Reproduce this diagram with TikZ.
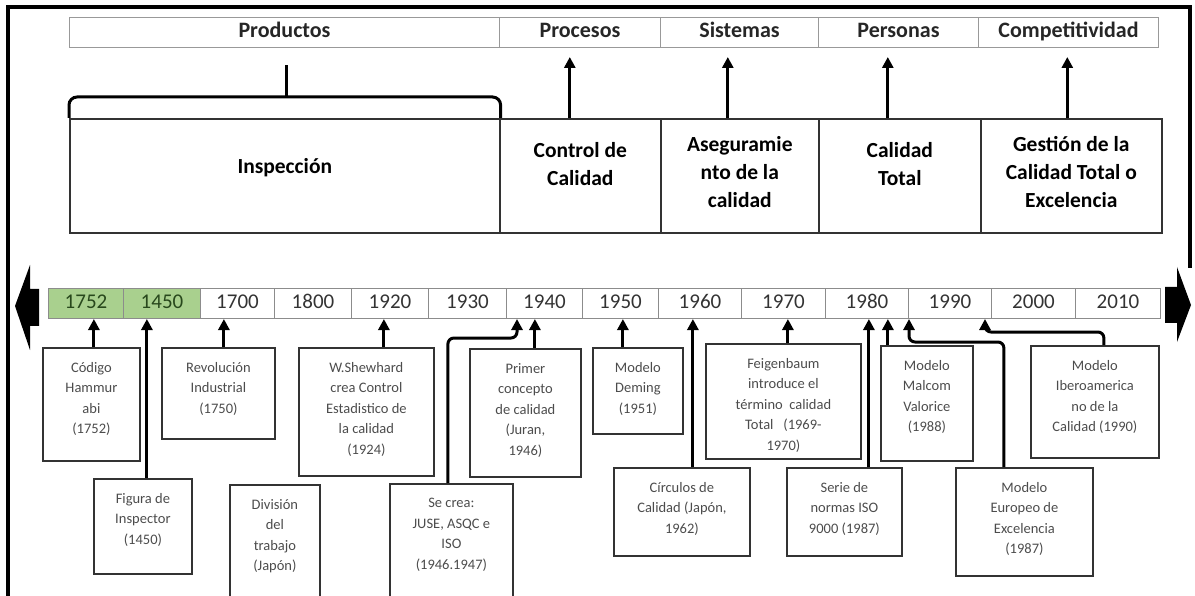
\documentclass[tikz,border=0pt]{standalone}
\usepackage{fontspec}
\setmainfont{Carlito}
\usetikzlibrary{arrows.meta}

\definecolor{cellgreen}{RGB}{169,208,142}
\definecolor{darkgreen}{RGB}{40,72,28}

% event box: name, left, top, width, height, text
\newcommand\evbox[6]{%
  \node[sbox, minimum width=#4pt, minimum height=#5pt] (#1) at (#2,#3) {};
  \node[stxt] (#1-t) at ([yshift=-15pt]#1.north) {#6};}

\begin{document}
\begin{tikzpicture}[x=1pt,y=-1pt,
  outerframe/.style={line width=3.5pt},
  hcell/.style={draw=black!40, line width=1pt, anchor=north west, minimum height=30pt,
    inner sep=0pt, text height=15pt, text depth=5pt,
    font=\fontsize{22}{26}\selectfont\bfseries, text=black!85},
  bigbox/.style={draw=black!80, line width=1.6pt, anchor=north west, minimum height=114pt, inner sep=0pt},
  bigtxt/.style={align=center, inner sep=0pt, font=\fontsize{21.5}{28}\selectfont\bfseries},
  ycell/.style={draw=black!45, line width=1pt, anchor=north west, minimum height=30pt,
    inner sep=0pt, text height=14pt, text depth=4pt,
    font=\fontsize{21}{24}\selectfont, text=black!80},
  oldcell/.style={ycell, fill=cellgreen, text=darkgreen},
  sbox/.style={draw=black!80, line width=1.8pt, anchor=north west, inner sep=0pt},
  stxt/.style={anchor=north, align=center, inner sep=0pt,
    font=\fontsize{14.5}{20.5}\selectfont, text=black!70},
  joinline/.style={line width=3pt, rounded corners=6pt},
  arr/.style={joinline, -{Triangle[length=11pt,width=11pt]}},
  prodbrace/.style={line width=3pt, rounded corners=8pt},
  endarrow/.style={fill=black, draw=none}
]
\useasboundingbox (0,0) rectangle (1195,596);

% outer frame (open at the bottom right)
\draw[outerframe] (8,596) -- (8,7) -- (1190,7) -- (1190,268);

% header row
\node[hcell, minimum width=430pt] (hprod) at (69,17) {Productos};
\node[hcell, minimum width=161pt] (hproc) at (499,17) {Procesos};
\node[hcell, minimum width=158pt] (hsist) at (660,17) {Sistemas};
\node[hcell, minimum width=160pt] (hpers) at (818,17) {Personas};
\node[hcell, minimum width=180pt] (hcomp) at (978,17) {Competitividad};

% stages
\node[bigbox, minimum width=430pt] (insp) at (69,118) {};
\node[bigbox, minimum width=161pt] (ctrl) at (499,118) {};
\node[bigbox, minimum width=158pt] (aseg) at (660,118) {};
\node[bigbox, minimum width=162pt] (ctot) at (818,118) {};
\node[bigbox, minimum width=181pt] (gest) at (980,118) {};

\node[bigtxt] (insp-t) at ([yshift=-50pt]insp.north) {Inspección};
\node[bigtxt] (ctrl-t) at ([yshift=-46pt]ctrl.north) {Control de\\Calidad};
\node[bigtxt] (aseg-t) at ([yshift=-54pt]aseg.north) {Aseguramie\\nto de la\\calidad};
\node[bigtxt] (ctot-t) at ([yshift=-46pt]ctot.north) {Calidad\\Total};
\node[bigtxt] (gest-t) at ([yshift=-54pt]gest.north) {Gestión de la\\Calidad Total o\\Excelencia};

% brace over the inspection stage
\coordinate (btip) at (286,97);
\draw[prodbrace] (insp.north west) |- (btip) -| (insp.north east);
\draw[prodbrace] (btip) -- ++(0,-32);

% stage -> focus arrows
\draw[arr, shorten >=9pt] ([xshift=-10.5pt]ctrl.north) -- ([xshift=-10.5pt]ctrl.north |- hproc.south);
\draw[arr, shorten >=9pt] ([xshift=-12pt]aseg.north) -- ([xshift=-12pt]aseg.north |- hsist.south);
\draw[arr, shorten >=9pt] ([xshift=-12pt]ctot.north) -- ([xshift=-12pt]ctot.north |- hpers.south);
\draw[arr, shorten >=9pt] ([xshift=-4pt]gest.north) -- ([xshift=-4pt]gest.north |- hcomp.south);

% time line
\node[oldcell, minimum width=75pt] (t1752) at (48,288) {1752};
\node[oldcell, minimum width=77pt] (t1450) at (123,288) {1450};
\node[ycell, minimum width=74pt] (t1700) at (200,288) {1700};
\node[ycell, minimum width=77pt] (t1800) at (274,288) {1800};
\node[ycell, minimum width=77pt] (t1920) at (351,288) {1920};
\node[ycell, minimum width=78pt] (t1930) at (428,288) {1930};
\node[ycell, minimum width=76pt] (t1940) at (506,288) {1940};
\node[ycell, minimum width=76pt] (t1950) at (582,288) {1950};
\node[ycell, minimum width=83pt] (t1960) at (658,288) {1960};
\node[ycell, minimum width=84pt] (t1970) at (741,288) {1970};
\node[ycell, minimum width=83pt] (t1980) at (825,288) {1980};
\node[ycell, minimum width=83pt] (t1990) at (908,288) {1990};
\node[ycell, minimum width=84pt] (t2000) at (991,288) {2000};
\node[ycell, minimum width=85pt] (t2010) at (1075,288) {2010};

% arrow ends of the time line
\fill[endarrow] (39,289) -- (30,289) -- (30,265) -- (15,306) -- (30,350) -- (30,326) -- (39,326) -- cycle;
\fill[endarrow] (1165,287) -- (1177,287) -- (1177,267) -- (1191,305) -- (1177,342) -- (1177,323) -- (1165,323) -- cycle;

% events
\evbox{cod}{42}{347}{97}{113}{Código\\Hammur\\abi\\(1752)}
\evbox{fig}{93}{478}{98}{95}{Figura de\\Inspector\\(1450)}
\evbox{rev}{161}{347}{113}{91}{Revolución\\Industrial\\(1750)}
\evbox{div}{229}{484}{90}{112}{División\\del\\trabajo\\(Japón)}
\evbox{shew}{298}{347}{135}{128}{W.Shewhard\\crea Control\\Estadistico de\\la calidad\\(1924)}
\evbox{secrea}{389}{483}{123}{113}{Se crea:\\JUSE, ASQC e\\ISO\\(1946.1947)}
\evbox{primer}{469}{348}{111}{128}{Primer\\concepto\\de calidad\\(Juran,\\1946)}
\evbox{deming}{592}{347}{90}{86}{Modelo\\Deming\\(1951)}
\evbox{circ}{613}{467}{136}{88}{Círculos de\\Calidad (Japón,\\1962)}
\evbox{feig}{705}{343}{155}{115}{Feigenbaum\\introduce el\\término\ \ calidad\\Total\ \ \ (1969-\\1970)}
\evbox{iso}{786}{467}{115}{88}{Serie de\\normas ISO\\9000 (1987)}
\evbox{malc}{880}{345}{92}{115}{Modelo\\Malcom\\Valorice\\(1988)}
\evbox{euro}{955}{467}{137}{108}{Modelo\\Europeo de\\Excelencia\\(1987)}
\evbox{ibero}{1030}{345}{128}{112}{Modelo\\Iberoamerica\\no de la\\Calidad (1990)}

% event -> year arrows
\draw[arr] ([xshift=2.5pt]cod.north) -- ([xshift=2.5pt]cod.north |- t1752.south);
\draw[arr] ([xshift=4pt]fig.north) -- ([xshift=4pt]fig.north |- t1450.south);
\draw[arr] ([xshift=5.5pt]rev.north) -- ([xshift=5.5pt]rev.north |- t1700.south);
\draw[arr] ([xshift=17.5pt]shew.north) -- ([xshift=17.5pt]shew.north |- t1920.south);
\draw[arr] ([xshift=9.5pt]primer.north) -- ([xshift=9.5pt]primer.north |- t1940.south);
\draw[arr] ([xshift=-15pt]deming.north) -- ([xshift=-15pt]deming.north |- t1950.south);
\draw[arr] ([xshift=11pt]circ.north) -- ([xshift=11pt]circ.north |- t1960.south);
\draw[arr] ([xshift=4.5pt]feig.north) -- ([xshift=4.5pt]feig.north |- t1970.south);
\draw[arr] ([xshift=24.5pt]iso.north) -- ([xshift=24.5pt]iso.north |- t1980.south);
\draw[arr] ([xshift=-39pt]malc.north) -- ([xshift=-39pt]malc.north |- t1980.south);

\coordinate (e1) at (517,338);
\coordinate (e2) at (909,342);
\coordinate (e3) at (985,332);
\draw[arr] ([xshift=-3.5pt]secrea.north) |- (e1) -- (e1 |- t1940.south);
\draw[arr] ([xshift=-20.5pt]euro.north) |- (e2) -- (e2 |- t1990.south);
\draw[arr] ([xshift=9pt]ibero.north) |- (e3) -- (e3 |- t1990.south);
\end{tikzpicture}
\end{document}
